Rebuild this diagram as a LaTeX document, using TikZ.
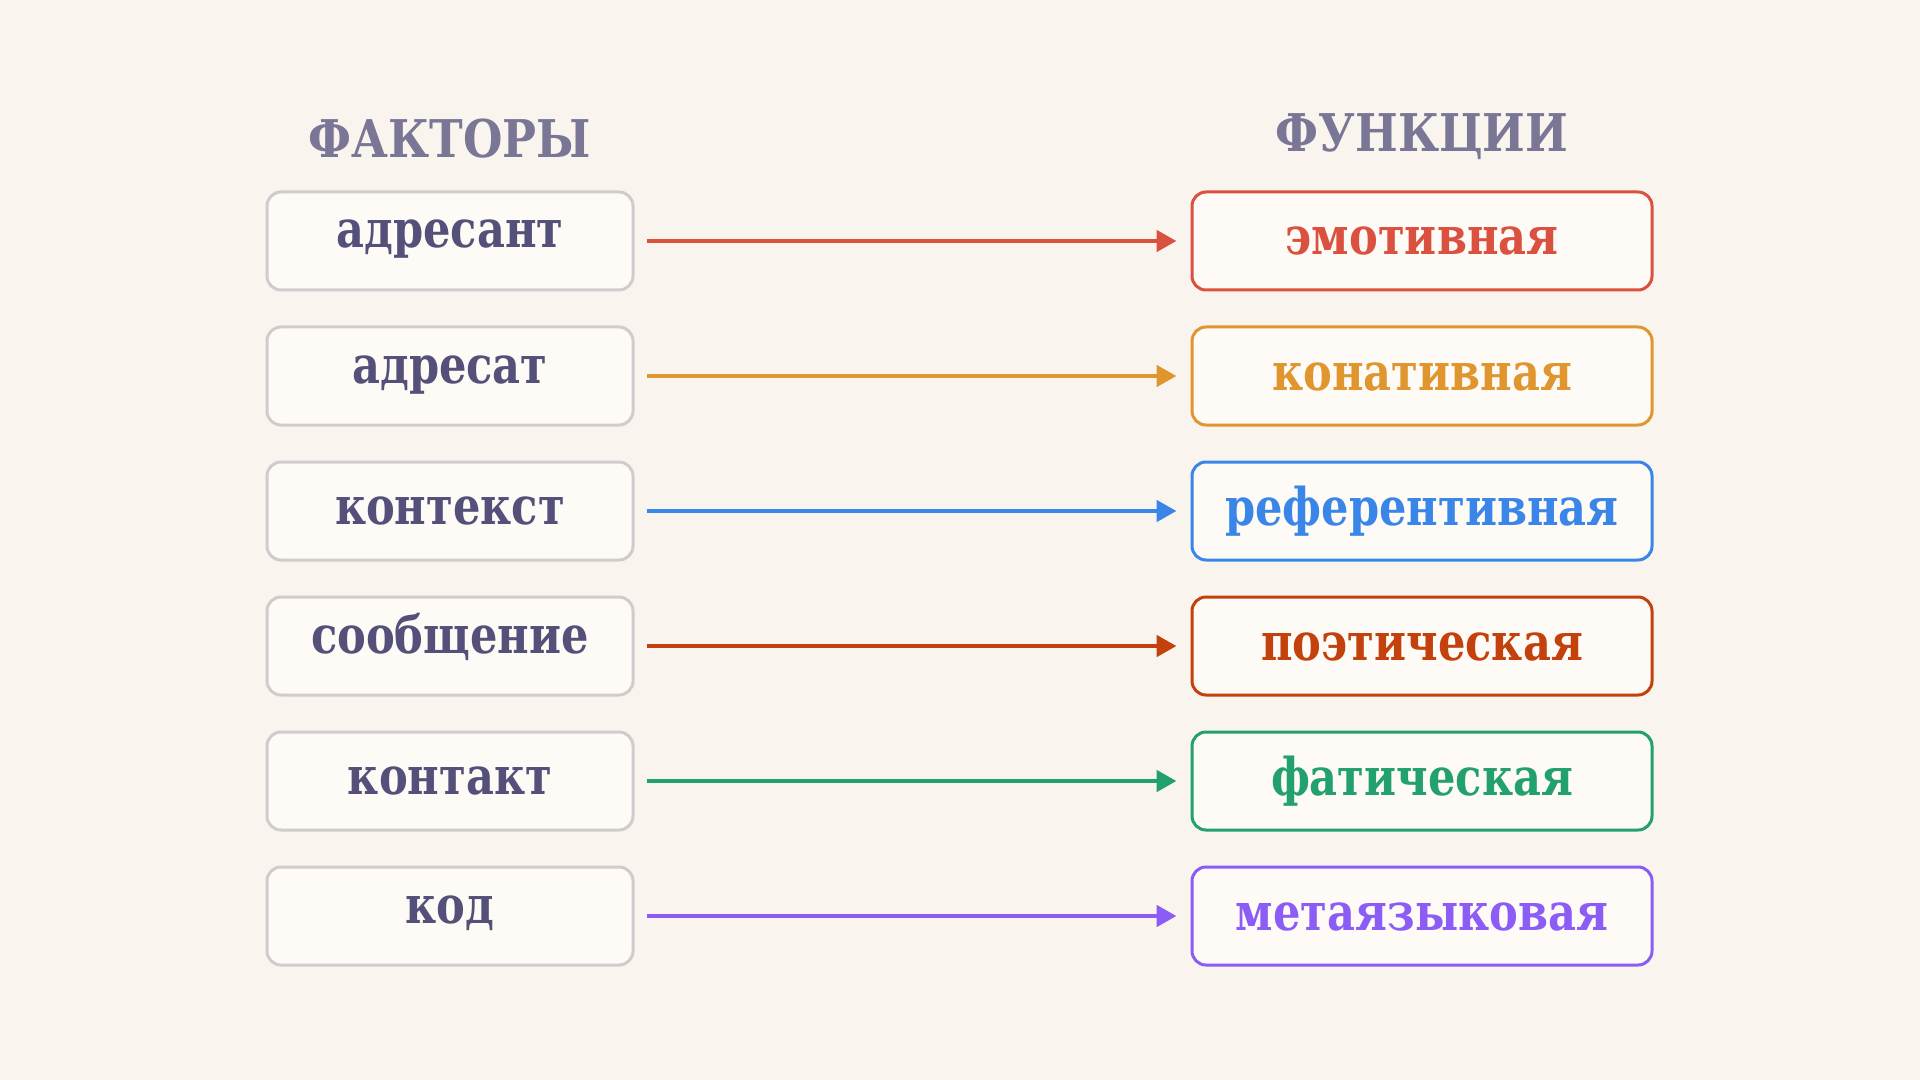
\documentclass[tikz,border=0pt]{standalone}
\usepackage{fontspec}
\setmainfont{DejaVu Serif}[FakeStretch=0.83]
\newfontfamily\headfont{DejaVu Serif}[FakeStretch=0.87]
\usetikzlibrary{arrows.meta}
\definecolor{bg}{HTML}{FAF4EE}
\definecolor{boxfill}{HTML}{FEFAF5}
\definecolor{graybord}{HTML}{D0CCCE}
\definecolor{factxt}{HTML}{55507A}
\definecolor{headtxt}{HTML}{7A7696}
\definecolor{cred}{HTML}{DB5140}
\definecolor{corange}{HTML}{E0962E}
\definecolor{cblue}{HTML}{3A86E8}
\definecolor{crust}{HTML}{C2410C}
\definecolor{cgreen}{HTML}{22A06E}
\definecolor{cpurple}{HTML}{8B5CF6}
\tikzset{
  factor/.style={draw=graybord, fill=boxfill, line width=1.5pt, rounded corners=7pt,
    minimum width=183pt, minimum height=49pt, inner sep=0pt, text=factxt,
    font=\fontsize{26pt}{30pt}\selectfont\bfseries},
  nodesc/.style={text height=13pt, text depth=0pt},
  withdesc/.style={text height=13pt, text depth=6pt},
  func/.style={draw=#1, fill=boxfill, line width=1.5pt, rounded corners=7pt,
    minimum width=230pt, minimum height=49pt, inner sep=0pt, text=#1,
    text height=14pt, text depth=0pt,
    font=\fontsize{26pt}{30pt}\selectfont\bfseries},
  conn/.style={draw=#1, line width=2.4pt, -{Triangle[length=10pt,width=10.5pt]},
    shorten <=6pt, shorten >=7pt},
  header/.style={text=headtxt, anchor=base, font=\headfont\fontsize{26pt}{30pt}\selectfont\bfseries}
}
\begin{document}
\begin{tikzpicture}[x=0.5pt,y=-0.5pt]
\fill[bg] (0,0) rectangle (1920,1080);
\useasboundingbox (0,0) rectangle (1920,1080);
\node[header] (hf) at (450,158) {ФАКТОРЫ};
\node[header] (hu) at (1422,152) {ФУНКЦИИ};
\node[factor,withdesc] (f1) at (450,241) {адресант};
\node[factor,withdesc] (f2) at (450,376) {адресат};
\node[factor,nodesc]   (f3) at (450,511) {контекст};
\node[factor,withdesc] (f4) at (450,646) {сообщение};
\node[factor,nodesc]   (f5) at (450,781) {контакт};
\node[factor,withdesc] (f6) at (450,916) {код};
\node[func=cred]    (u1) at (1422,241) {эмотивная};
\node[func=corange] (u2) at (1422,376) {конативная};
\node[func=cblue]   (u3) at (1422,511) {референтивная};
\node[func=crust]   (u4) at (1422,646) {поэтическая};
\node[func=cgreen]  (u5) at (1422,781) {фатическая};
\node[func=cpurple] (u6) at (1422,916) {метаязыковая};
\draw[conn=cred]    (f1) -- (u1);
\draw[conn=corange] (f2) -- (u2);
\draw[conn=cblue]   (f3) -- (u3);
\draw[conn=crust]   (f4) -- (u4);
\draw[conn=cgreen]  (f5) -- (u5);
\draw[conn=cpurple] (f6) -- (u6);
\end{tikzpicture}
\end{document}
